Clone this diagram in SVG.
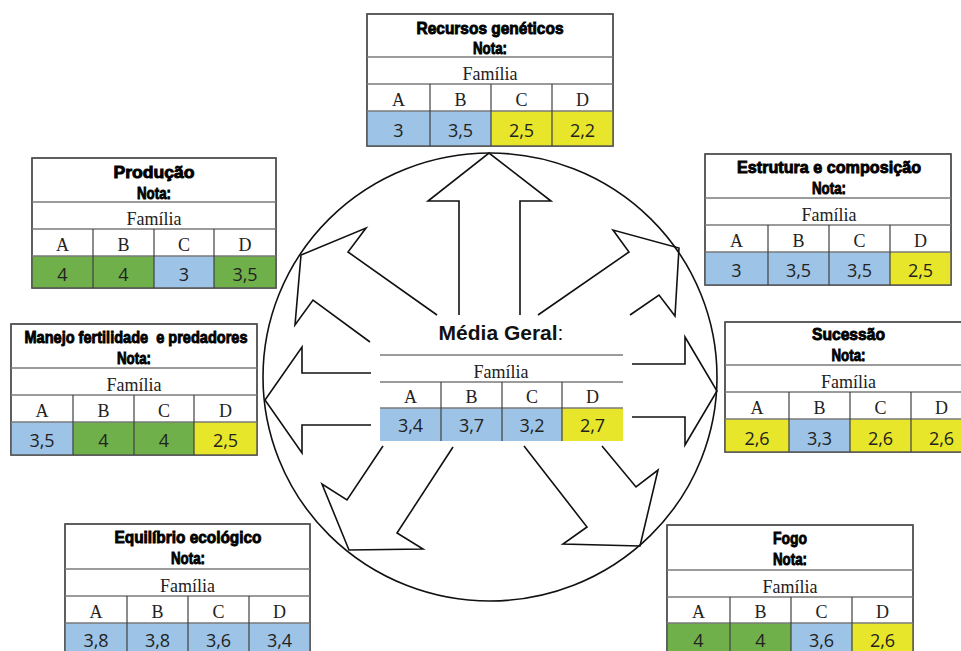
<svg xmlns="http://www.w3.org/2000/svg" width="961" height="651" viewBox="0 0 961 651">
<style>
.ob{fill:#fff;stroke:#505050;stroke-width:1.4}
.hl{stroke:#7a7a7a;stroke-width:1.3}
.vl{stroke:#404040;stroke-width:1.2}
.ttl{font-family:'Liberation Sans',Arial,sans-serif;font-weight:bold;font-size:17px;text-anchor:middle;fill:#000;stroke:#000;stroke-width:0.9}
.fam{font-family:'Liberation Serif','Times New Roman',serif;font-size:18px;text-anchor:middle;fill:#222}
.val{font-family:'Open Sans',sans-serif;font-size:18px;text-anchor:middle;fill:#222}
.mg{font-family:'Liberation Sans',Arial,sans-serif;font-size:21px;text-anchor:middle;fill:#111}
.blue{fill:#9DC3E6}.green{fill:#70B04A}.yellow{fill:#E8E62A}
.arr{fill:none;stroke:#111;stroke-width:1.6;stroke-linejoin:miter}
</style>
<rect width="961" height="651" fill="#fff"/>

<g id="connectors">
<ellipse cx="490" cy="377" rx="227" ry="224" fill="none" stroke="#111" stroke-width="1.6"/>
<polyline class="arr" points="459,315 459,201 428,201 489,153 551,201 520,201 520,315"/>
<polyline class="arr" points="437,315 348,252 366,228 301,255 295,325 313,300 370,342"/>
<polyline class="arr" points="538,315 629,252 613,230 679,248 675,316 659,295 630,315"/>
<polyline class="arr" points="371,373 302,373 302,347 265,400 302,453 302,425 371,425"/>
<polyline class="arr" points="632,364 685,364 685,337 717,391 685,445 685,417 632,417"/>
<polyline class="arr" points="383,446 347,500 322,484 349,550 423,549 397,533 453,447"/>
<polyline class="arr" points="524,446 587,527 563,544 640,546 658,470 636,487 602,446"/>
</g>

<g id="media-geral">
<text class="mg" x="501" y="340"><tspan font-weight="bold">Média Geral</tspan>:</text>
<rect class="blue" x="380" y="408" width="61" height="33"/>
<rect class="blue" x="441" y="408" width="61" height="33"/>
<rect class="blue" x="502" y="408" width="60" height="33"/>
<rect class="yellow" x="562" y="408" width="61" height="33"/>
<line class="hl" x1="380" y1="355" x2="623" y2="355"/>
<line class="hl" x1="380" y1="382" x2="623" y2="382"/>
<line class="hl" x1="380" y1="408" x2="623" y2="408"/>
<line class="vl" x1="441" y1="382" x2="441" y2="441"/>
<line class="vl" x1="502" y1="382" x2="502" y2="441"/>
<line class="vl" x1="562" y1="382" x2="562" y2="441"/>
<text class="fam" x="501" y="378">Família</text>
<text class="fam" x="410.5" y="403">A</text><text class="fam" x="471.5" y="403">B</text><text class="fam" x="532" y="403">C</text><text class="fam" x="592.5" y="403">D</text>
<text class="val" x="410.5" y="432">3,4</text><text class="val" x="471.5" y="432">3,7</text><text class="val" x="532" y="432">3,2</text><text class="val" x="592.5" y="432">2,7</text>
</g>

<g id="recursos-geneticos">
<rect class="ob" x="367" y="14" width="246" height="132"/>
<rect class="blue" x="367" y="111" width="63" height="35"/>
<rect class="blue" x="430" y="111" width="61" height="35"/>
<rect class="yellow" x="491" y="111" width="61" height="35"/>
<rect class="yellow" x="552" y="111" width="61" height="35"/>
<rect x="367" y="14" width="246" height="132" fill="none" stroke="#505050" stroke-width="1.4"/>
<line class="hl" x1="367" y1="57" x2="613" y2="57"/>
<line class="hl" x1="367" y1="84" x2="613" y2="84"/>
<line class="hl" x1="367" y1="111" x2="613" y2="111"/>
<line class="vl" x1="430" y1="84" x2="430" y2="146"/>
<line class="vl" x1="491" y1="84" x2="491" y2="146"/>
<line class="vl" x1="552" y1="84" x2="552" y2="146"/>
<text class="ttl" x="490" y="34" textLength="147" lengthAdjust="spacingAndGlyphs">Recursos genéticos</text>
<text class="ttl" x="490" y="54" textLength="34" lengthAdjust="spacingAndGlyphs">Nota:</text>
<text class="fam" x="490" y="80">Família</text>
<text class="fam" x="398.5" y="106">A</text><text class="fam" x="460.5" y="106">B</text><text class="fam" x="521.5" y="106">C</text><text class="fam" x="582.5" y="106">D</text>
<text class="val" x="398.5" y="137">3</text><text class="val" x="460.5" y="137">3,5</text><text class="val" x="521.5" y="137">2,5</text><text class="val" x="582.5" y="137">2,2</text>
</g>

<g id="producao">
<rect class="ob" x="32" y="158" width="244" height="130"/>
<rect class="green" x="32" y="256" width="61" height="32"/>
<rect class="green" x="93" y="256" width="61" height="32"/>
<rect class="blue" x="154" y="256" width="60" height="32"/>
<rect class="green" x="214" y="256" width="62" height="32"/>
<rect x="32" y="158" width="244" height="130" fill="none" stroke="#505050" stroke-width="1.4"/>
<line class="hl" x1="32" y1="202" x2="276" y2="202"/>
<line class="hl" x1="32" y1="229" x2="276" y2="229"/>
<line class="hl" x1="32" y1="256" x2="276" y2="256"/>
<line class="vl" x1="93" y1="229" x2="93" y2="288"/>
<line class="vl" x1="154" y1="229" x2="154" y2="288"/>
<line class="vl" x1="214" y1="229" x2="214" y2="288"/>
<text class="ttl" x="154" y="178" textLength="81" lengthAdjust="spacingAndGlyphs">Produção</text>
<text class="ttl" x="154" y="199" textLength="34" lengthAdjust="spacingAndGlyphs">Nota:</text>
<text class="fam" x="154" y="225">Família</text>
<text class="fam" x="62.5" y="251">A</text><text class="fam" x="123.5" y="251">B</text><text class="fam" x="184" y="251">C</text><text class="fam" x="245" y="251">D</text>
<text class="val" x="62.5" y="281">4</text><text class="val" x="123.5" y="281">4</text><text class="val" x="184" y="281">3</text><text class="val" x="245" y="281">3,5</text>
</g>

<g id="estrutura-composicao">
<rect class="ob" x="705" y="154" width="246" height="131"/>
<rect class="blue" x="705" y="252" width="63" height="33"/>
<rect class="blue" x="768" y="252" width="61" height="33"/>
<rect class="blue" x="829" y="252" width="61" height="33"/>
<rect class="yellow" x="890" y="252" width="61" height="33"/>
<rect x="705" y="154" width="246" height="131" fill="none" stroke="#505050" stroke-width="1.4"/>
<line class="hl" x1="705" y1="198" x2="951" y2="198"/>
<line class="hl" x1="705" y1="225" x2="951" y2="225"/>
<line class="hl" x1="705" y1="252" x2="951" y2="252"/>
<line class="vl" x1="768" y1="225" x2="768" y2="285"/>
<line class="vl" x1="829" y1="225" x2="829" y2="285"/>
<line class="vl" x1="890" y1="225" x2="890" y2="285"/>
<text class="ttl" x="829" y="173" textLength="184" lengthAdjust="spacingAndGlyphs">Estrutura e composição</text>
<text class="ttl" x="829" y="194" textLength="34" lengthAdjust="spacingAndGlyphs">Nota:</text>
<text class="fam" x="829" y="221">Família</text>
<text class="fam" x="736.5" y="247">A</text><text class="fam" x="798.5" y="247">B</text><text class="fam" x="859.5" y="247">C</text><text class="fam" x="920.5" y="247">D</text>
<text class="val" x="736.5" y="277">3</text><text class="val" x="798.5" y="277">3,5</text><text class="val" x="859.5" y="277">3,5</text><text class="val" x="920.5" y="277">2,5</text>
</g>

<g id="manejo-fertilidade">
<rect class="ob" x="11" y="324" width="246" height="131"/>
<rect class="blue" x="11" y="422" width="62" height="33"/>
<rect class="green" x="73" y="422" width="61" height="33"/>
<rect class="green" x="134" y="422" width="60" height="33"/>
<rect class="yellow" x="194" y="422" width="63" height="33"/>
<rect x="11" y="324" width="246" height="131" fill="none" stroke="#505050" stroke-width="1.4"/>
<line class="hl" x1="11" y1="368" x2="257" y2="368"/>
<line class="hl" x1="11" y1="395" x2="257" y2="395"/>
<line class="hl" x1="11" y1="422" x2="257" y2="422"/>
<line class="vl" x1="73" y1="395" x2="73" y2="455"/>
<line class="vl" x1="134" y1="395" x2="134" y2="455"/>
<line class="vl" x1="194" y1="395" x2="194" y2="455"/>
<text class="ttl" x="136" y="343" textLength="223" lengthAdjust="spacingAndGlyphs" xml:space="preserve">Manejo fertilidade  e predadores</text>
<text class="ttl" x="134" y="364" textLength="34" lengthAdjust="spacingAndGlyphs">Nota:</text>
<text class="fam" x="134" y="391">Família</text>
<text class="fam" x="42" y="417">A</text><text class="fam" x="103.5" y="417">B</text><text class="fam" x="164" y="417">C</text><text class="fam" x="225.5" y="417">D</text>
<text class="val" x="42" y="447">3,5</text><text class="val" x="103.5" y="447">4</text><text class="val" x="164" y="447">4</text><text class="val" x="225.5" y="447">2,5</text>
</g>

<g id="sucessao">
<rect class="ob" x="725" y="322" width="247" height="130"/>
<rect class="yellow" x="725" y="419" width="64" height="33"/>
<rect class="blue" x="789" y="419" width="61" height="33"/>
<rect class="yellow" x="850" y="419" width="61" height="33"/>
<rect class="yellow" x="911" y="419" width="61" height="33"/>
<rect x="725" y="322" width="247" height="130" fill="none" stroke="#505050" stroke-width="1.4"/>
<line class="hl" x1="725" y1="365" x2="972" y2="365"/>
<line class="hl" x1="725" y1="392" x2="972" y2="392"/>
<line class="hl" x1="725" y1="419" x2="972" y2="419"/>
<line class="vl" x1="789" y1="392" x2="789" y2="452"/>
<line class="vl" x1="850" y1="392" x2="850" y2="452"/>
<line class="vl" x1="911" y1="392" x2="911" y2="452"/>
<text class="ttl" x="848.5" y="340" textLength="73" lengthAdjust="spacingAndGlyphs">Sucessão</text>
<text class="ttl" x="848.5" y="361" textLength="34" lengthAdjust="spacingAndGlyphs">Nota:</text>
<text class="fam" x="848.5" y="388">Família</text>
<text class="fam" x="757" y="414">A</text><text class="fam" x="819.5" y="414">B</text><text class="fam" x="880.5" y="414">C</text><text class="fam" x="941.5" y="414">D</text>
<text class="val" x="757" y="445">2,6</text><text class="val" x="819.5" y="445">3,3</text><text class="val" x="880.5" y="445">2,6</text><text class="val" x="941.5" y="445">2,6</text>
</g>

<g id="equilibrio-ecologico">
<rect class="ob" x="65" y="524" width="245" height="141"/>
<rect class="blue" x="65" y="623" width="245" height="42"/>
<rect x="65" y="524" width="245" height="141" fill="none" stroke="#505050" stroke-width="1.4"/>
<line class="hl" x1="65" y1="569" x2="310" y2="569"/>
<line class="hl" x1="65" y1="596" x2="310" y2="596"/>
<line class="hl" x1="65" y1="623" x2="310" y2="623"/>
<line class="vl" x1="127" y1="596" x2="127" y2="665"/>
<line class="vl" x1="188" y1="596" x2="188" y2="665"/>
<line class="vl" x1="249" y1="596" x2="249" y2="665"/>
<text class="ttl" x="188" y="543" textLength="147" lengthAdjust="spacingAndGlyphs">Equilíbrio ecológico</text>
<text class="ttl" x="188" y="564" textLength="34" lengthAdjust="spacingAndGlyphs">Nota:</text>
<text class="fam" x="187.5" y="592">Família</text>
<text class="fam" x="96" y="618">A</text><text class="fam" x="157.5" y="618">B</text><text class="fam" x="218.5" y="618">C</text><text class="fam" x="279.5" y="618">D</text>
<text class="val" x="96" y="647">3,8</text><text class="val" x="157.5" y="647">3,8</text><text class="val" x="218.5" y="647">3,6</text><text class="val" x="279.5" y="647">3,4</text>
</g>

<g id="fogo">
<rect class="ob" x="667" y="525" width="246" height="140"/>
<rect class="green" x="667" y="623" width="63" height="42"/>
<rect class="green" x="730" y="623" width="61" height="42"/>
<rect class="blue" x="791" y="623" width="61" height="42"/>
<rect class="yellow" x="852" y="623" width="61" height="42"/>
<rect x="667" y="525" width="246" height="140" fill="none" stroke="#505050" stroke-width="1.4"/>
<line class="hl" x1="667" y1="570" x2="913" y2="570"/>
<line class="hl" x1="667" y1="597" x2="913" y2="597"/>
<line class="hl" x1="667" y1="623" x2="913" y2="623"/>
<line class="vl" x1="730" y1="597" x2="730" y2="665"/>
<line class="vl" x1="791" y1="597" x2="791" y2="665"/>
<line class="vl" x1="852" y1="597" x2="852" y2="665"/>
<text class="ttl" x="790" y="544" textLength="34" lengthAdjust="spacingAndGlyphs">Fogo</text>
<text class="ttl" x="790" y="565" textLength="34" lengthAdjust="spacingAndGlyphs">Nota:</text>
<text class="fam" x="790" y="593">Família</text>
<text class="fam" x="698.5" y="618">A</text><text class="fam" x="760.5" y="618">B</text><text class="fam" x="821.5" y="618">C</text><text class="fam" x="882.5" y="618">D</text>
<text class="val" x="698.5" y="647">4</text><text class="val" x="760.5" y="647">4</text><text class="val" x="821.5" y="647">3,6</text><text class="val" x="882.5" y="647">2,6</text>
</g>
</svg>
